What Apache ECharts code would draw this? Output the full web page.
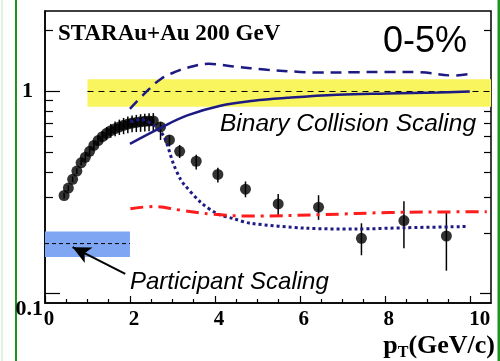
<!DOCTYPE html>
<html>
<head>
<meta charset="utf-8">
<script src="https://cdn.jsdelivr.net/npm/echarts@6/dist/echarts.min.js"></script>
<style>
  html, body { margin: 0; padding: 0; background: #fff; }
  #chart { width: 500px; height: 361px; }
</style>
</head>
<body>
<div id="chart"></div>
<script>
// R_AA data points (pT in GeV/c)
const ptVals = [0.45, 0.55, 0.65, 0.75, 0.85, 0.95, 1.05, 1.15, 1.25, 1.35, 1.45, 1.55, 1.65, 1.75, 1.85, 1.95, 2.05, 2.15, 2.25, 2.35, 2.45, 2.55, 2.72, 2.93, 3.17, 3.56, 4.07, 4.72, 5.49, 6.44, 7.45, 8.45, 9.45];
const raaVals = [0.306, 0.333, 0.368, 0.404, 0.444, 0.473, 0.506, 0.541, 0.572, 0.598, 0.621, 0.64, 0.655, 0.668, 0.68, 0.69, 0.698, 0.703, 0.708, 0.712, 0.714, 0.715, 0.668, 0.576, 0.506, 0.452, 0.389, 0.329, 0.278, 0.268, 0.188, 0.230, 0.193];
const raaLow = [0.296, 0.322, 0.356, 0.391, 0.43, 0.456, 0.486, 0.515, 0.54, 0.56, 0.575, 0.59, 0.6, 0.61, 0.615, 0.622, 0.628, 0.63, 0.632, 0.635, 0.636, 0.637, 0.576, 0.535, 0.469, 0.412, 0.355, 0.300, 0.245, 0.232, 0.155, 0.168, 0.130];
const raaHigh = [0.316, 0.344, 0.38, 0.417, 0.458, 0.49, 0.526, 0.567, 0.604, 0.636, 0.667, 0.69, 0.71, 0.726, 0.74, 0.752, 0.76, 0.766, 0.772, 0.777, 0.78, 0.782, 0.707, 0.608, 0.544, 0.487, 0.420, 0.359, 0.311, 0.307, 0.223, 0.287, 0.254];

// model curves [pT, R]
const upperDashed = [[2.0, 0.82], [2.33, 0.97], [2.72, 1.15], [3.11, 1.26], [3.35, 1.31], [3.85, 1.37], [4.44, 1.33], [5.23, 1.28], [6.0, 1.25], [6.48, 1.24], [7.26, 1.245], [8.0, 1.25], [8.84, 1.245], [9.61, 1.2], [10.0, 1.22]];
const binarySolid = [[2.0, 0.551], [2.72, 0.661], [3.35, 0.762], [4.13, 0.851], [4.91, 0.90], [5.7, 0.93], [6.88, 0.963], [8.05, 0.978], [9.23, 0.989], [10.0, 1.0]];
const dottedCurve = [[2.01, 0.707], [2.25, 0.728], [2.56, 0.681], [2.8, 0.598], [3.03, 0.435], [3.19, 0.368], [3.27, 0.348], [3.66, 0.284], [4.05, 0.249], [4.44, 0.235], [4.84, 0.223], [6.13, 0.211], [7.31, 0.209], [8.48, 0.212], [9.97, 0.215]];
const redDashDot = [[2.01, 0.263], [2.56, 0.27], [3.19, 0.259], [3.97, 0.247], [4.84, 0.242], [6.52, 0.246], [8.09, 0.252], [9.97, 0.254], [10.4, 0.254]];

// scaling references
const binaryRef = [[1, 1], [10.5, 1]];
const binaryBand = [1, 10.5, 0.84, 1.15];
const partRef = [[0, 0.177], [2, 0.177]];
const partBand = [0, 2, 0.152, 0.203];
const arrowFrom = [1.89, 0.1255];
const arrowTo = [0.65, 0.17];

// ticks
const xMajor = [0, 2, 4, 6, 8, 10];
const xMinor = [0.5, 1, 1.5, 2.5, 3, 3.5, 4.5, 5, 5.5, 6.5, 7, 7.5, 8.5, 9, 9.5];
const yMajor = [0.1, 1];
const yMinor = [0.2, 0.3, 0.4, 0.5, 0.6, 0.7, 0.8, 0.9, 2];

const chart = echarts.init(document.getElementById('chart'));

const navy = '#1d1a84';
const serifBold = { fontFamily: 'Liberation Serif', fontWeight: 'bold', fontSize: 22, color: '#000' };
const xLabelFont = { ...serifBold, fontSize: 21 };

const yBase = {
  type: 'log', logBase: 10, min: 0.09, max: 2.5,
  splitLine: { show: false }
};

const option = {
  animation: false,
  grid: { left: 45, top: 11, right: 9, bottom: 54, show: true, borderColor: '#000', borderWidth: 1.5, backgroundColor: 'transparent' },
  xAxis: [
    {
      type: 'value', min: 0, max: 10.5,
      axisLine: { lineStyle: { color: '#000', width: 1.5 } },
      axisTick: { inside: true, length: 7, customValues: xMajor, lineStyle: { color: '#000', width: 1.2 } },
      axisLabel: {
        customValues: xMajor, margin: 6,
        formatter: v => (v === 10 ? '{w|10}' : '{n|' + v + '}'),
        rich: {
          n: { ...xLabelFont, padding: [0, 0, 0, 8] },
          w: { ...xLabelFont, padding: [0, 0, 0, 20] }
        }
      },
      splitLine: { show: false },
      name: '{p|p}{t|T}{p|(GeV/c)}',
      nameLocation: 'end',
      nameGap: 4,
      nameTextStyle: {
        align: 'right', verticalAlign: 'top', padding: [28, 0, 0, 0],
        rich: {
          p: { ...serifBold, fontSize: 26 },
          t: { fontFamily: 'Liberation Serif', fontWeight: 'bold', fontSize: 16, color: '#000', padding: [14, 0, 0, 0] }
        }
      }
    },
    {
      type: 'value', min: 0, max: 10.5, position: 'bottom',
      axisLine: { show: false },
      axisTick: { inside: true, length: 4, customValues: xMinor, lineStyle: { color: '#000', width: 1.2 } },
      axisLabel: { show: false },
      splitLine: { show: false }
    }
  ],
  yAxis: [
    {
      ...yBase, position: 'left',
      axisLine: { show: true, lineStyle: { color: '#000', width: 1.5 } },
      axisTick: { inside: true, length: 15, customValues: yMajor, lineStyle: { color: '#000', width: 1.2 } },
      axisLabel: {
        customValues: yMajor, margin: 2,
        formatter: v => (v > 0.5 ? '{a|1}' : '{b|0.1}'),
        rich: {
          a: { ...serifBold, padding: [0, 10, 0, 0] },
          b: { ...serifBold, padding: [32, 0, 0, 0] }
        }
      }
    },
    {
      ...yBase, position: 'left',
      axisLine: { show: false },
      axisTick: { inside: true, length: 8, customValues: yMinor, lineStyle: { color: '#000', width: 1.2 } },
      axisLabel: { show: false }
    },
    {
      ...yBase, position: 'right',
      axisLine: { show: false },
      axisTick: { inside: true, length: 11, customValues: yMajor, lineStyle: { color: '#000', width: 1.2 } },
      axisLabel: { show: false }
    },
    {
      ...yBase, position: 'right',
      axisLine: { show: false },
      axisTick: { inside: true, length: 7, customValues: yMinor, lineStyle: { color: '#000', width: 1.2 } },
      axisLabel: { show: false }
    }
  ],
  series: [
    {
      name: 'binary ref', type: 'line', data: binaryRef, symbol: 'none', z: 1,
      lineStyle: { color: '#000', width: 1, type: [6, 5] },
      markArea: {
        silent: true,
        itemStyle: { color: '#f9f55e' },
        data: [[{ xAxis: binaryBand[0], yAxis: binaryBand[2] }, { xAxis: binaryBand[1], yAxis: binaryBand[3] }]]
      }
    },
    {
      name: 'participant ref', type: 'line', data: partRef, symbol: 'none', z: 1,
      lineStyle: { color: '#000', width: 1, type: [4, 3] },
      markArea: {
        silent: true,
        itemStyle: { color: '#7fa6f3' },
        data: [[{ xAxis: partBand[0], yAxis: partBand[2] }, { xAxis: partBand[1], yAxis: partBand[3] }]]
      },
      markLine: {
        silent: true,
        symbol: ['none', 'arrow'],
        symbolSize: [13, 18],
        label: { show: false },
        lineStyle: { color: '#000', width: 2, type: 'solid' },
        data: [[{ coord: arrowFrom }, { coord: arrowTo }]]
      }
    },
    {
      name: 'errors', type: 'custom', z: 4,
      data: ptVals.map((x, i) => [x, raaLow[i], raaHigh[i]]),
      encode: { x: 0, y: [1, 2] },
      renderItem: (params, api) => {
        const lo = api.coord([api.value(0), api.value(1)]);
        const hi = api.coord([api.value(0), api.value(2)]);
        return {
          type: 'line',
          shape: { x1: lo[0], y1: lo[1], x2: hi[0], y2: hi[1] },
          style: { stroke: '#000', lineWidth: 1.5 }
        };
      }
    },
    {
      name: 'RAA', type: 'scatter', z: 5,
      data: ptVals.map((x, i) => [x, raaVals[i]]),
      symbol: 'circle', symbolSize: 11,
      itemStyle: { color: '#000' }
    },
    {
      name: 'upper', type: 'line', data: upperDashed, symbol: 'none', smooth: 0.4, z: 6,
      lineStyle: { color: navy, width: 2.5, type: [11, 7] }
    },
    {
      name: 'binary', type: 'line', data: binarySolid, symbol: 'none', smooth: 0.4, z: 6,
      lineStyle: { color: navy, width: 2.5 }
    },
    {
      name: 'dotted', type: 'line', data: dottedCurve, symbol: 'none', smooth: 0.3, z: 6,
      lineStyle: { color: navy, width: 3, type: [3, 3] }
    },
    {
      name: 'red', type: 'line', data: redDashDot, symbol: 'none', smooth: 0.4, z: 6,
      lineStyle: { color: '#ff1c1c', width: 3, type: [13, 6, 3, 6] }
    }
  ],
  graphic: [
    { type: 'line', shape: { x1: 2, y1: 0, x2: 2, y2: 361 }, style: { stroke: '#bfe3bf', lineWidth: 1 } },
    { type: 'line', shape: { x1: 16, y1: 0, x2: 16, y2: 361 }, style: { stroke: '#1d941d', lineWidth: 2 } },
    { type: 'line', shape: { x1: 499, y1: 0, x2: 499, y2: 361 }, style: { stroke: '#1d941d', lineWidth: 3 } },
    {
      type: 'text', x: 58, y: 34,
      style: { text: 'STARAu+Au 200 GeV', font: 'bold 23px "Liberation Serif"', fill: '#000', align: 'left', verticalAlign: 'middle' }
    },
    {
      type: 'text', x: 383, y: 42,
      style: { text: '0-5%', font: '36px "Liberation Sans"', fill: '#000', align: 'left', verticalAlign: 'middle' }
    },
    {
      type: 'text', x: 220, y: 124,
      style: { text: 'Binary Collision Scaling', font: 'italic 24.5px "Liberation Sans"', fill: '#000', align: 'left', verticalAlign: 'middle' }
    },
    {
      type: 'text', x: 130, y: 282,
      style: { text: 'Participant Scaling', font: 'italic 24px "Liberation Sans"', fill: '#000', align: 'left', verticalAlign: 'middle' }
    }
  ]
};

chart.setOption(option);
</script>
</body>
</html>
